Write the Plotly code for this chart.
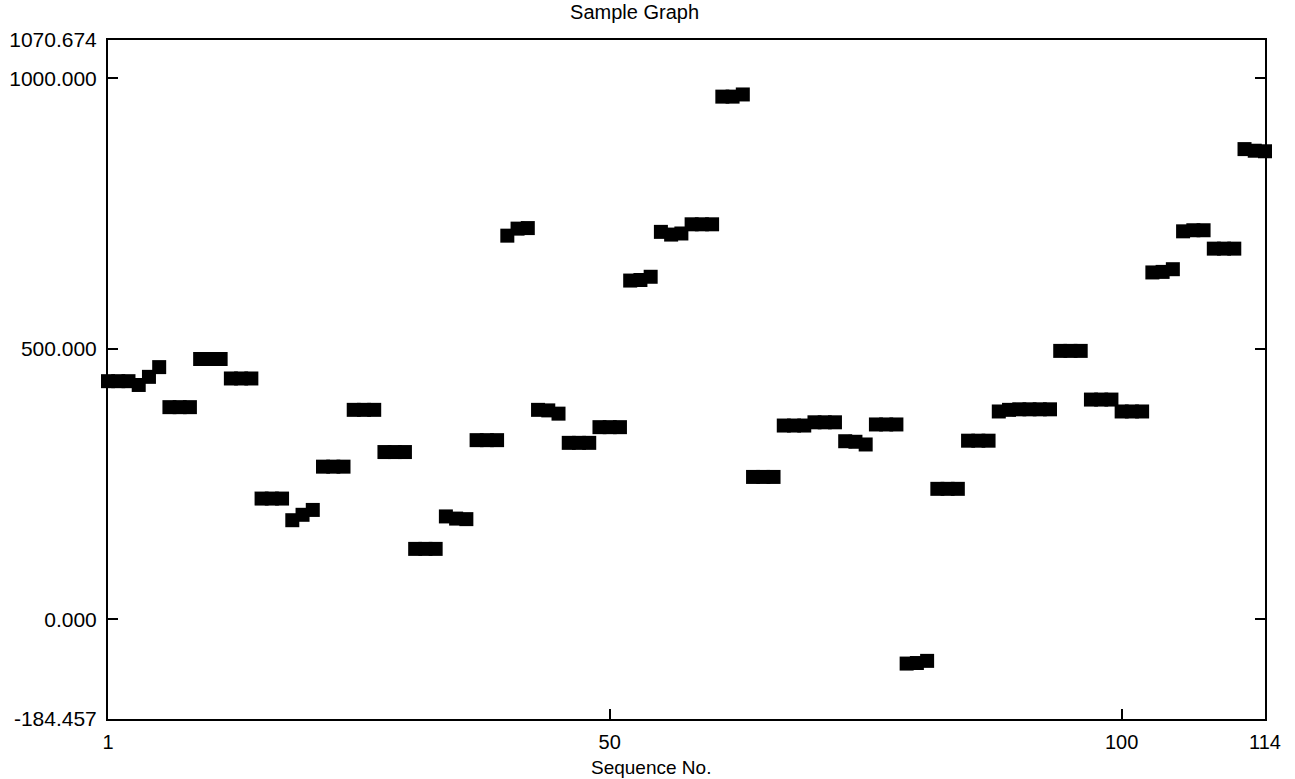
import plotly.graph_objects as go

# Sequence numbers (x categories)
seq_no = list(range(1, 115))

values = [
    440, 440, 440,   433, 448, 466,   392, 392, 392,   481, 481, 481,
    445, 445, 445,   223, 223, 223,   183, 193, 202,   282, 282, 282,
    387, 387, 387,   309, 309, 309,   130, 130, 130,   190, 186, 185,
    331, 331, 331,   709, 722, 723,   387, 386, 380,   326, 326, 326,
    355, 355, 355,   626, 627, 633,   716, 711, 713,   730, 730, 730,
    966, 966, 970,   263, 263, 263,   358, 358, 358,   364, 364, 364,
    329, 328, 323,   360, 360, 360,   -82, -81, -77,   241, 241, 241,
    330, 330, 330,   384, 387, 388,   388, 388, 388,   496, 496, 496,
    406, 406, 406,   384, 384, 384,   641, 642, 647,   717, 719, 719,
    685, 685, 685,   869, 866, 865,
]

y_tickvals = [-184.457, 0.0, 500.0, 1000.0, 1070.674]
y_ticktext = ["-184.457", "0.000", "500.000", "1000.000", "1070.674"]
x_tickvals = [1, 50, 100, 114]
x_ticktext = ["1", "50", "100", "114"]

FONT = "Arial, Liberation Sans, sans-serif"

fig = go.Figure()
fig.add_trace(go.Scatter(
    x=seq_no, y=values, mode="markers",
    marker=dict(symbol="square", size=14, color="black", line=dict(width=0)),
    cliponaxis=False, showlegend=False,
))

fig.update_layout(
    width=1295, height=779,
    margin=dict(l=108, r=30, t=40, b=60),
    paper_bgcolor="white", plot_bgcolor="white",
    font=dict(family=FONT, size=20, color="black"),
    title=dict(text="Sample Graph", xref="container", x=0.49, xanchor="center",
               yref="container", y=0.985, yanchor="middle",
               font=dict(family=FONT, size=20, color="black")),
    xaxis=dict(range=[1, 114], tickvals=x_tickvals, ticktext=x_ticktext,
               showgrid=False, zeroline=False, showline=True, linecolor="black",
               linewidth=2, mirror=True, ticks="inside", ticklen=10, tickwidth=2,
               tickcolor="black", tickfont=dict(size=20), ticklabelstandoff=4,
               automargin=False),
    yaxis=dict(range=[-184.457, 1070.674], tickvals=y_tickvals, ticktext=y_ticktext,
               showgrid=False, zeroline=False, showline=True, linecolor="black",
               linewidth=2, mirror="ticks", ticks="inside", ticklen=10, tickwidth=2,
               tickcolor="black", tickfont=dict(size=21), ticklabelstandoff=5,
               automargin=False),
    annotations=[dict(text="Sequence No.", xref="paper", yref="paper",
                      x=(651 - 108) / 1157, y=-0.072, xanchor="center", yanchor="middle",
                      showarrow=False, font=dict(family=FONT, size=19, color="black"))],
)

fig.write_html("out.html")
